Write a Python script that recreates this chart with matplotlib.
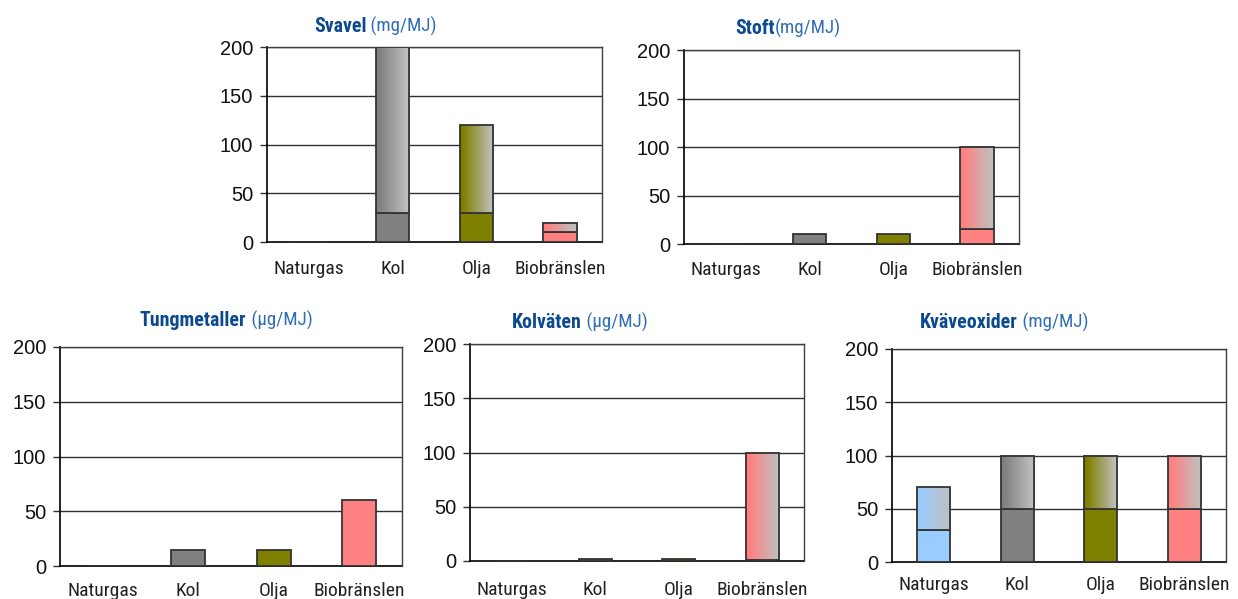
import matplotlib
matplotlib.use("Agg")
import matplotlib.pyplot as plt
import numpy as np
from matplotlib.colors import to_rgb
from matplotlib import font_manager as fm

categories = ["Naturgas", "Kol", "Olja", "Biobränslen"]
cat_colors = ["#99CCFF", "#808080", "#808000", "#FF8080"]

titles_bold = ["Svavel", "Stoft", "Tungmetaller", "Kolväten", "Kväveoxider"]
titles_unit = [" (mg/MJ)", "(mg/MJ)", " (µg/MJ)", " (µg/MJ)", " (mg/MJ)"]

# lower (solid) part and total (top of gradient part) for each panel
svavel_low = [0, 30, 30, 10]
svavel_high = [0, 200, 120, 20]
stoft_low = [0, 10, 10, 15]
stoft_high = [0, 10, 10, 100]
tung_low = [0, 15, 15, 60]
tung_high = [0, 15, 15, 60]
kolv_low = [0, 1.5, 1.5, 1]
kolv_high = [0, 1.5, 1.5, 100]
kvave_low = [30, 50, 50, 50]
kvave_high = [70, 100, 100, 100]

lows = [svavel_low, stoft_low, tung_low, kolv_low, kvave_low]
highs = [svavel_high, stoft_high, tung_high, kolv_high, kvave_high]

yticks = [0, 50, 100, 150, 200]

# pick a condensed face if one is installed
names = {f.name for f in fm.fontManager.ttflist}
cond_fam = "DejaVu Sans"
stretch = "normal"
for cand in ["Liberation Sans Narrow", "Roboto Condensed", "Open Sans Condensed",
             "Noto Sans Condensed", "DejaVu Sans Condensed"]:
    if cand in names:
        cond_fam = cand
        break
else:
    for f in fm.fontManager.ttflist:
        if f.name in ("Noto Sans", "DejaVu Sans", "Roboto", "Open Sans") and \
                str(f.stretch) in ("condensed", "semi-condensed", "500", "300", "375"):
            cond_fam = f.name
            stretch = "condensed"
            break

W, H = 1238, 599
fig = plt.figure(figsize=(W / 100, H / 100), dpi=100)

# axes boxes in pixels: left, right, top, bottom
boxes = [(267, 602, 47, 242), (684, 1019, 50, 244),
         (60, 402, 347, 566), (470, 804, 344, 561), (892, 1226, 349, 562)]
title_pos = [(314, 27), (735, 29), (140, 321), (512, 323), (920, 322)]
label_pads = [13.3, 11.9, 11.2, 14.7, 10.4]

edge = "#333333"
cat_fs = 14 if cond_fam != "DejaVu Sans" or stretch != "normal" else 11.5
title_fs = 13.6 if cat_fs == 14 else 11.5

for i in range(5):
    l, r, t, b = boxes[i]
    ax = fig.add_axes([l / W, (H - b) / H, (r - l) / W, (b - t) / H])
    x = np.arange(len(categories))
    for v in yticks[1:]:
        ax.axhline(v, color="#303030", lw=1.0, zorder=1)
    low = np.array(lows[i], dtype=float)
    high = np.array(highs[i], dtype=float)
    bw = 0.4
    ax.bar(x, low, width=bw, color=cat_colors, edgecolor=edge, lw=1.3, zorder=3)
    for j in range(len(categories)):
        if high[j] > low[j]:
            c0 = np.array(to_rgb(cat_colors[j]))
            c1 = np.array(to_rgb("#C0C0C0"))
            tt = np.linspace(0, 1, 100)
            tt = np.clip((tt - 0.1) / 0.85, 0, 1)
            grad = c0[None, :] * (1 - tt[:, None]) + c1[None, :] * tt[:, None]
            img = grad[None, :, :]
            x0 = x[j] - bw / 2
            ax.imshow(img, extent=(x0, x0 + bw, low[j], high[j]), aspect="auto",
                      zorder=3, interpolation="bilinear")
            ax.bar(x[j], high[j] - low[j], bottom=low[j], width=bw, fill=False,
                   edgecolor=edge, lw=1.3, zorder=4)
    ax.set_xlim(-0.5, 3.5)
    ax.set_ylim(0, 200)
    ax.set_yticks(yticks)
    ax.set_yticklabels([str(v) for v in yticks], fontsize=14.5, family="Liberation Sans",
                       color="#111111")
    ax.set_xticks(x)
    ax.set_xticklabels(categories, fontsize=cat_fs, family=cond_fam, stretch=stretch,
                       color="#222222")
    ax.tick_params(axis="x", length=0, pad=label_pads[i])
    ax.tick_params(axis="y", length=5, width=1, color="#303030", pad=5)
    for s in ["left", "bottom"]:
        ax.spines[s].set_color("black")
        ax.spines[s].set_linewidth(1.2)
    for s in ["top", "right"]:
        ax.spines[s].set_color("#404040")
        ax.spines[s].set_linewidth(1.0)
    ax.spines["bottom"].set_zorder(2)

    tx, ty = title_pos[i]
    t1 = fig.text(tx / W, (H - ty) / H, titles_bold[i], fontsize=title_fs + 0.7,
                  family=cond_fam, stretch=stretch,
                  weight="bold", color="#0B4A8E", ha="left", va="center")
    ax.annotate(titles_unit[i], xy=(1, 0), xycoords=t1, ha="left", va="bottom",
                fontsize=title_fs, family=cond_fam, stretch=stretch, color="#2E6DB4")

fig.savefig("out.png", dpi=100)
